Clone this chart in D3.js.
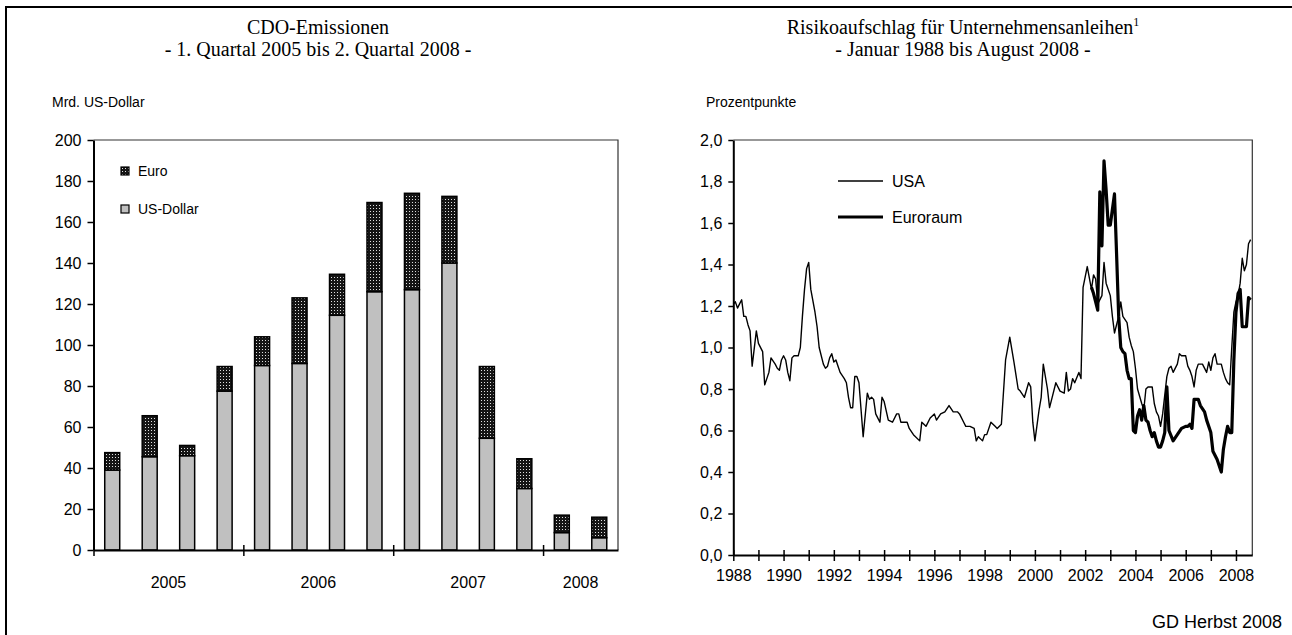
<!DOCTYPE html>
<html>
<head>
<meta charset="utf-8">
<title>CDO-Emissionen und Risikoaufschlag</title>
<script src="https://cdn.jsdelivr.net/npm/d3@7"></script>
<style>
  body { margin: 0; background: #fff; }
  svg text { font-family: "Liberation Sans", Arial, sans-serif; fill: #000; }
  text.serif { font-family: "Liberation Serif", "Times New Roman", serif; }
  .axis path, .axis line { stroke: #000; }
</style>
</head>
<body>
<svg id="vis" width="1292" height="635"></svg>
<script>
// --- CDO-Emissionen, Mrd. US-Dollar, per quarter
var quarters = ["2005Q1","2005Q2","2005Q3","2005Q4","2006Q1","2006Q2","2006Q3","2006Q4",
                "2007Q1","2007Q2","2007Q3","2007Q4","2008Q1","2008Q2"];
var usdValues  = [39, 45.5, 46, 77.5, 90, 91, 114.5, 126, 127, 140, 54.5, 30, 8.5, 6];
var euroValues = [8.5, 20, 5, 12, 14, 32, 20, 43.5, 47, 32.5, 35, 14.5, 8.5, 10];
var yearLabels = ["2005", "2006", "2007", "2008"];

// --- Risikoaufschlag, Prozentpunkte, months since Jan 1988
var usaMonths = [0,1,2,3,4,5,6,7,8,9,11,12,14,15,17,18,20,21,22,23,24,25,26,27,28,29,31,32,33,34,
  35,36,37,39,40,41,43,44,45,46,47,48,49,50,51,53,54,55,56,57,58,59,60,62,64,65,66,67,68,70,
  71,72,74,76,78,79,80,83,84,86,89,90,92,94,96,97,99,101,103,105,107,108,110,111,113,115,116,117,119,120,
  121,123,125,126,128,130,132,134,136,137,139,141,142,143,144,146,147,148,150,151,152,154,156,158,159,160,
  161,162,163,165,166,167,169,171,172,173,174,176,177,178,180,181,182,184,185,186,188,189,190,191,192,193,
  195,196,197,198,200,201,202,203,204,205,207,208,209,210,212,213,214,216,217,218,219,220,221,222,223,224,
  226,227,228,229,230,231,233,234,235,236,237,238,239,240,241,242,243,244,245,246,247];
var usaValues = [1.21,1.22,1.19,1.21,1.23,1.15,1.15,1.11,1.08,0.91,1.08,1.02,0.98,0.82,0.88,0.95,0.92,0.90,0.89,0.94,
  0.96,0.94,0.88,0.84,0.95,0.96,0.96,1.00,1.15,1.28,1.38,1.41,1.28,1.17,1.10,1.00,0.92,0.90,0.91,0.95,
  0.97,0.93,0.94,0.91,0.88,0.85,0.83,0.76,0.71,0.71,0.86,0.86,0.83,0.57,0.78,0.75,0.76,0.75,0.68,0.64,
  0.76,0.74,0.65,0.64,0.68,0.68,0.64,0.64,0.61,0.58,0.55,0.64,0.62,0.66,0.68,0.65,0.68,0.69,0.72,0.69,
  0.69,0.68,0.64,0.62,0.62,0.61,0.55,0.57,0.55,0.58,0.58,0.64,0.62,0.61,0.63,0.94,1.05,0.93,0.80,0.79,
  0.76,0.83,0.81,0.64,0.55,0.70,0.76,0.92,0.80,0.71,0.75,0.83,0.79,0.78,0.88,0.79,0.80,0.85,0.83,0.88,
  0.85,1.29,1.39,1.28,1.35,1.33,1.21,1.25,1.41,1.31,1.25,1.15,1.07,1.15,1.22,1.15,1.12,1.05,1.01,0.98,
  0.90,0.80,0.73,0.70,0.80,0.81,0.81,0.73,0.69,0.67,0.62,0.68,0.86,0.90,0.91,0.88,0.92,0.97,0.96,0.96,
  0.91,0.89,0.86,0.81,0.89,0.92,0.92,0.92,0.88,0.93,0.89,0.95,0.97,0.92,0.92,0.88,0.85,0.83,0.82,1.00,
  1.17,1.22,1.25,1.31,1.43,1.37,1.40,1.50,1.52];
var euroMonths = [171,172,173,174,175,176,177,178,179,180,182,183,184,185,186,187,188,189,190,191,
  192,193,194,195,196,197,198,199,200,201,202,203,204,205,206,207,208,210,212,214,
  216,217,218,219,220,222,223,225,226,228,229,231,233,234,235,236,237,238,239,240,
  241,242,243,244,245,246,247];
var euroAreaValues = [1.29,1.26,1.22,1.18,1.75,1.49,1.90,1.76,1.59,1.59,1.74,1.45,1.15,1.00,0.98,0.97,0.89,0.85,0.85,0.60,
  0.59,0.67,0.70,0.65,0.72,0.65,0.64,0.60,0.57,0.59,0.55,0.52,0.52,0.55,0.59,0.81,0.60,0.55,0.58,0.61,
  0.62,0.62,0.63,0.61,0.75,0.75,0.72,0.69,0.65,0.59,0.50,0.46,0.40,0.51,0.57,0.62,0.59,0.59,0.94,1.17,
  1.26,1.28,1.10,1.10,1.10,1.24,1.23];

var svg = d3.select("#vis");

// outer frame
svg.append("rect")
    .attr("x", 6).attr("y", 7)
    .attr("width", 1300).attr("height", 640)
    .attr("fill", "none").attr("stroke", "#000").attr("stroke-width", 2);

var defs = svg.append("defs");
var pat = defs.append("pattern")
    .attr("id", "dots")
    .attr("patternUnits", "userSpaceOnUse")
    .attr("width", 3).attr("height", 3);
pat.append("rect").attr("width", 3).attr("height", 3).attr("fill", "#151515");
pat.append("rect").attr("x", 1).attr("y", 1).attr("width", 1).attr("height", 1).attr("fill", "#e0e0e0");

// ================= left chart =================
var L = {left: 93.5, right: 618, top: 140, bottom: 550};

svg.append("text").attr("class", "serif")
    .attr("x", 318).attr("y", 34).attr("text-anchor", "middle")
    .style("font-size", "20px").text("CDO-Emissionen");
svg.append("text").attr("class", "serif")
    .attr("x", 318).attr("y", 56).attr("text-anchor", "middle")
    .style("font-size", "20px").text("- 1. Quartal 2005 bis 2. Quartal 2008 -");
svg.append("text")
    .attr("x", 52).attr("y", 107)
    .style("font-size", "14px").text("Mrd. US-Dollar");

var xb = d3.scaleBand().domain(quarters).range([L.left, L.right]).paddingInner(0.6).paddingOuter(0.3);
var xq = d3.scaleLinear().domain([0, quarters.length]).range([L.left, L.right]);
var yl = d3.scaleLinear().domain([0, 200]).range([L.bottom, L.top]);

// plot frame top / right
svg.append("path")
    .attr("d", "M" + L.left + "," + L.top + "H" + L.right + "V" + L.bottom)
    .attr("fill", "none").attr("stroke", "#333").attr("stroke-width", 1.2);

var bars = svg.append("g");
bars.selectAll("rect.usd")
    .data(quarters)
    .enter().append("rect")
      .attr("class", "usd")
      .attr("x", function(d) { return xb(d); })
      .attr("width", xb.bandwidth())
      .attr("y", function(d, i) { return yl(usdValues[i]); })
      .attr("height", function(d, i) { return yl(0) - yl(usdValues[i]); })
      .attr("fill", "#c0c0c0").attr("stroke", "#000").attr("stroke-width", 1.5);
bars.selectAll("rect.eur")
    .data(quarters)
    .enter().append("rect")
      .attr("class", "eur")
      .attr("x", function(d) { return xb(d); })
      .attr("width", xb.bandwidth())
      .attr("y", function(d, i) { return yl(usdValues[i] + euroValues[i]); })
      .attr("height", function(d, i) { return yl(usdValues[i]) - yl(usdValues[i] + euroValues[i]); })
      .attr("fill", "url(#dots)").attr("stroke", "#000").attr("stroke-width", 1.5);

var yAxisL = svg.append("g").attr("class", "axis")
    .attr("transform", "translate(" + L.left + ",0)")
    .call(d3.axisLeft(yl).tickValues(d3.range(0, 201, 20)).tickSize(6).tickSizeOuter(0).tickPadding(6));
yAxisL.select(".domain").attr("stroke-width", 2);
yAxisL.selectAll(".tick line").attr("stroke-width", 1.5);
yAxisL.selectAll("text").style("font-size", "16px").attr("font-family", null);

var xAxisL = svg.append("g").attr("class", "axis")
    .attr("transform", "translate(0," + L.bottom + ")")
    .call(d3.axisBottom(xq).tickValues([0, 4, 8, 12]).tickFormat("").tickSize(6).tickSizeOuter(0));
xAxisL.select(".domain").attr("stroke-width", 2);
xAxisL.selectAll(".tick line").attr("y1", -5).attr("y2", 6).attr("stroke-width", 1.5);

svg.append("g").selectAll("text")
    .data(yearLabels)
    .enter().append("text")
      .attr("x", function(d, i) { return xq(i < 3 ? i * 4 + 2 : 13); })
      .attr("y", 588)
      .attr("text-anchor", "middle")
      .style("font-size", "16px")
      .text(function(d) { return d; });

// legend
var legL = [{name: "Euro", fill: "url(#dots)"}, {name: "US-Dollar", fill: "#c0c0c0"}];
var lg = svg.append("g").selectAll("g").data(legL).enter().append("g")
    .attr("transform", function(d, i) { return "translate(121," + (167 + i * 38) + ")"; });
lg.append("rect").attr("width", 8).attr("height", 8)
    .attr("fill", function(d) { return d.fill; }).attr("stroke", "#000").attr("stroke-width", 1.2);
lg.append("text").attr("x", 17).attr("y", 9).style("font-size", "14px")
    .text(function(d) { return d.name; });

// ================= right chart =================
var R = {left: 733.3, right: 1252.3, top: 140, bottom: 555};

var t1 = svg.append("text").attr("class", "serif")
    .attr("x", 963).attr("y", 34).attr("text-anchor", "middle")
    .style("font-size", "20px");
t1.append("tspan").text("Risikoaufschlag für Unternehmensanleihen");
t1.append("tspan").attr("dy", -8).style("font-size", "12px").text("1");
svg.append("text").attr("class", "serif")
    .attr("x", 963).attr("y", 56).attr("text-anchor", "middle")
    .style("font-size", "20px").text("- Januar 1988 bis August 2008 -");
svg.append("text")
    .attr("x", 706).attr("y", 107)
    .style("font-size", "14px").text("Prozentpunkte");

var xr = d3.scaleLinear().domain([1988, 2008.65]).range([R.left, R.right]);
var yr = d3.scaleLinear().domain([0, 2]).range([R.bottom, R.top]);

svg.append("path")
    .attr("d", "M" + R.left + "," + R.top + "H" + R.right + "V" + R.bottom)
    .attr("fill", "none").attr("stroke", "#333").attr("stroke-width", 1.2);

var line = d3.line()
    .x(function(d) { return xr(1988 + d[0] / 12); })
    .y(function(d) { return yr(d[1]); });

svg.append("path")
    .datum(usaMonths.map(function(m, i) { return [m, usaValues[i]]; }))
    .attr("d", line)
    .attr("fill", "none").attr("stroke", "#000").attr("stroke-width", 1.4)
    .attr("stroke-linejoin", "round");
svg.append("path")
    .datum(euroMonths.map(function(m, i) { return [m, euroAreaValues[i]]; }))
    .attr("d", line)
    .attr("fill", "none").attr("stroke", "#000").attr("stroke-width", 3.2)
    .attr("stroke-linejoin", "round");

var yAxisR = svg.append("g").attr("class", "axis")
    .attr("transform", "translate(" + R.left + ",0)")
    .call(d3.axisLeft(yr).tickValues(d3.range(0, 2.01, 0.2)).tickSize(5).tickSizeOuter(0).tickPadding(6)
      .tickFormat(function(d) { return d3.format(".1f")(d).replace(".", ","); }));
yAxisR.select(".domain").attr("stroke-width", 2);
yAxisR.selectAll(".tick line").attr("stroke-width", 1.5);
yAxisR.selectAll("text").style("font-size", "16px").attr("font-family", null);

var xAxisR = svg.append("g").attr("class", "axis")
    .attr("transform", "translate(0," + R.bottom + ")")
    .call(d3.axisBottom(xr).tickValues(d3.range(1988, 2009)).tickSize(5).tickSizeOuter(0).tickPadding(10)
      .tickFormat(function(d) { return d % 2 === 0 ? d : ""; }));
xAxisR.select(".domain").attr("stroke-width", 2);
xAxisR.selectAll(".tick line").attr("y1", -5).attr("y2", 6).attr("stroke-width", 1.5);
xAxisR.selectAll("text").style("font-size", "16px").attr("font-family", null);

// legend
var legR = [{name: "USA", w: 1.4, y: 181}, {name: "Euroraum", w: 3.2, y: 217}];
var lr = svg.append("g").selectAll("g").data(legR).enter().append("g");
lr.append("line").attr("x1", 838).attr("x2", 883)
    .attr("y1", function(d) { return d.y; }).attr("y2", function(d) { return d.y; })
    .attr("stroke", "#000").attr("stroke-width", function(d) { return d.w; });
lr.append("text").attr("x", 892).attr("y", function(d) { return d.y + 6; })
    .style("font-size", "16px").text(function(d) { return d.name; });

svg.append("text")
    .attr("x", 1282).attr("y", 628).attr("text-anchor", "end")
    .style("font-size", "18px").text("GD Herbst 2008");
</script>
</body>
</html>
